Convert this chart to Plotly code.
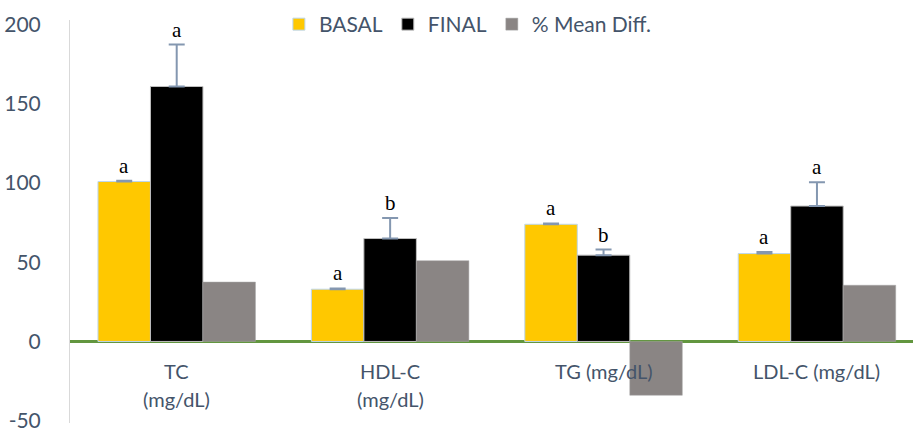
import plotly.graph_objects as go

categories = ["TC\n(mg/dL)", "HDL-C\n(mg/dL)", "TG (mg/dL)", "LDL-C (mg/dL)"]
basal = [101, 33, 74, 55.5]
basal_err = [0.5, 0.5, 0.5, 1.0]
final = [161, 65, 54.5, 85.5]
final_err = [26.5, 13, 3.5, 15]
mean_diff = [37.5, 51, -34, 35.5]
basal_letters = ["a", "a", "a", "a"]
final_letters = ["a", "b", "b", "a"]
y_ticks = [-50, 0, 50, 100, 150, 200]
y_tick_labels = ["-50", "0", "50", "100", "150", "200"]

x_idx = list(range(len(categories)))
text_col = "#44546A"
err_col = "#8497B0"
BAR_W = 0.246

fig = go.Figure()
fig.add_trace(go.Bar(
    name="BASAL", x=x_idx, y=basal,
    marker=dict(color="#FFC800", line=dict(color="#BDD7EE", width=1)),
    error_y=dict(type="data", array=basal_err, arrayminus=[0]*4, symmetric=False,
                 color=err_col, thickness=2, width=8),
))
fig.add_trace(go.Bar(
    name="FINAL", x=x_idx, y=final,
    marker=dict(color="#000000", line=dict(color="#BFBFBF", width=1)),
    error_y=dict(type="data", array=final_err, arrayminus=[0]*4, symmetric=False,
                 color=err_col, thickness=2, width=8),
))
fig.add_trace(go.Bar(
    name="% Mean Diff.", x=x_idx, y=mean_diff,
    marker=dict(color="#8A8584", line=dict(color="#A6A6A6", width=0.5)),
))

annotations = []
for i in x_idx:
    annotations.append(dict(x=i - BAR_W, y=basal[i] + basal_err[i], text=basal_letters[i],
                            showarrow=False, yanchor="bottom", yshift=1,
                            font=dict(family="Liberation Serif", size=21, color="#000000")))
    annotations.append(dict(x=i, y=final[i] + final_err[i], text=final_letters[i],
                            showarrow=False, yanchor="bottom", yshift=1,
                            font=dict(family="Liberation Serif", size=21, color="#000000")))
    lines = categories[i].split("\n")
    for k, line in enumerate(lines):
        annotations.append(dict(x=i, y=0, text=line, showarrow=False,
                                yanchor="middle", yshift=-30 - 28 * k,
                                font=dict(family="Lato", size=20, color=text_col)))

H_PLOT = 435 - 4 - 12
fig.update_layout(
    width=913, height=435,
    margin=dict(l=70, r=0, t=4, b=12, autoexpand=False),
    paper_bgcolor="white", plot_bgcolor="white",
    barmode="group", bargap=0.262, bargroupgap=0,
    font=dict(family="Lato", size=20, color=text_col),
    showlegend=True,
    legend=dict(orientation="h", x=0.472, xanchor="center",
                y=1, yanchor="top",
                font=dict(family="Lato", size=21, color=text_col),
                bgcolor="rgba(255,255,255,0)", itemwidth=30, traceorder="normal"),
    annotations=annotations,
)
fig.update_xaxes(range=[-0.5, 3.45], showticklabels=False, showgrid=False,
                 zeroline=False, showline=False, ticks="", automargin=False)
fig.update_yaxes(range=[-51.5, 203], tickvals=y_ticks, ticktext=y_tick_labels,
                 showgrid=False,
                 domain=[0, 1 - 16 / H_PLOT], automargin=False,
                 zeroline=True, zerolinecolor="#62963F", zerolinewidth=3,
                 showline=True, linecolor="#D9D9D9", linewidth=1, ticks="",
                 ticklabelstandoff=24,
                 tickfont=dict(family="Lato", size=21, color=text_col))

fig.write_html("out.html", config={"displayModeBar": False},
               post_script="document.body.style.margin='0';document.body.style.overflow='hidden';")
